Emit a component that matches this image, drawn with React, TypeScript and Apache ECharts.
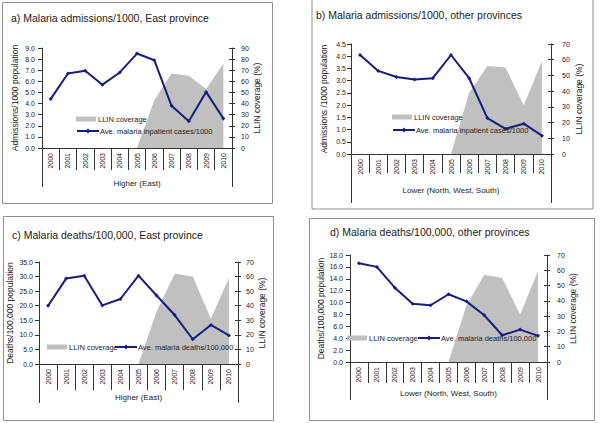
import React, { useEffect, useRef } from "react";
import * as echarts from "echarts";

const years = ["2000", "2001", "2002", "2003", "2004", "2005", "2006", "2007", "2008", "2009", "2010"];

const admissionsEast = [4.4, 6.7, 6.95, 5.7, 6.8, 8.5, 7.9, 3.8, 2.4, 5.05, 2.65];
const llinEastA = [null, null, null, null, null, 0, 43, 67, 65, 53, 76];

const admissionsOther = [4.05, 3.4, 3.15, 3.05, 3.1, 4.05, 3.1, 1.47, 1.03, 1.24, 0.75];
const llinOtherB = [null, null, null, null, null, 0, 39, 56, 55, 31, 59];

const deathsEast = [20.0, 29.3, 30.3, 20.1, 22.3, 30.3, 23.5, 16.8, 8.5, 13.4, 9.8];
const llinEastC = [null, null, null, null, null, 0, 36, 62, 60, 31, 59];

const deathsOther = [16.6, 16.0, 12.5, 9.8, 9.55, 11.4, 10.2, 7.85, 4.5, 5.45, 4.4];
const llinOtherD = [null, null, null, null, null, 0, 37, 57, 55, 31, 59.5];

const titles = [
  "a) Malaria admissions/1000, East province",
  "b) Malaria admissions/1000, other provinces",
  "c) Malaria deaths/100,000, East province",
  "d) Malaria deaths/100,000, other provinces",
];
const leftNames = [
  "Admissions/1000 population",
  "Admissions /1000 population",
  "Deaths/100,000 population",
  "Deaths/100,000 population",
];
const groupLabels = ["Higher (East)", "Lower (North, West, South)", "Higher (East)", "Lower (North, West, South)"];
const areaName = "LLIN coverage";
const lineNames = [
  "Ave. malaria inpatient cases/1000",
  "Ave. malaria inpatient cases/1000",
  "Ave. malaria deaths/100,000",
  "Ave. malaria deaths/100,000",
];
const rightName = "LLIN coverage (%)";
const lineSeries = [admissionsEast, admissionsOther, deathsEast, deathsOther];
const areaSeries = [llinEastA, llinOtherB, llinEastC, llinOtherD];
const leftMax = [9, 4.5, 35, 18];
const leftInterval = [1, 0.5, 5, 2];
const rightMax = [90, 70, 70, 70];

const FONT = "'Liberation Sans', Arial, sans-serif";
const TXT = "#222";
const AXIS = "#333";
const NAVY = "#1b1b7c";
const GRAY = "#c0c0c0";

// layout (styles only)
const layout = [
  { left: 42, top: 48, width: 190, height: 100, yearTick: 22, groupTick: 39, groupMargin: 31, lGap: 23, rGap: 19, rMargin: 9, lMargin: 7,
    title: [11, 12], leg1: [76, 115], leg2: [76, 127], box: [2, 2, 270, 201] },
  { left: 351, top: 44, width: 200, height: 110, yearTick: 19, groupTick: 49, groupMargin: 32, lGap: 23, rGap: 23, rMargin: 11, lMargin: 5,
    title: [316, 9], leg1: [392, 113], leg2: [392, 126], box: [311.5, -1, 281, 209.5] },
  { left: 39, top: 262, width: 199, height: 102, yearTick: 26, groupTick: 39, groupMargin: 29, lGap: 25, rGap: 19, rMargin: 8, lMargin: 6,
    title: [12, 229], leg1: [47, 343], leg2: [114, 343], box: [3, 216, 270, 204] },
  { left: 350, top: 255, width: 197, height: 107, yearTick: 21, groupTick: 38, groupMargin: 27, lGap: 24, rGap: 16, rMargin: 10, lMargin: 7,
    title: [330, 226], leg1: [347, 334], leg2: [417, 334], box: [309, 218, 285, 202] },
];

function buildOption() {
  const grid: any[] = [];
  const xAxis: any[] = [];
  const yAxis: any[] = [];
  const series: any[] = [];
  const legend: any[] = [];
  const title: any[] = [];
  const graphic: any[] = [];

  layout.forEach((L, i) => {
    grid.push({ left: L.left, top: L.top, width: L.width, height: L.height, containLabel: false });
    title.push({
      text: titles[i], left: L.title[0], top: L.title[1], padding: 0,
      textStyle: { fontFamily: FONT, fontSize: 10.5, fontWeight: "normal", color: TXT },
    });
    graphic.push({
      type: "rect", shape: { x: L.box[0] + 0.5, y: L.box[1] + 0.5, width: L.box[2], height: L.box[3] },
      style: { fill: "none", stroke: "#8f8f8f", lineWidth: 1 }, silent: true,
    });
    // year axis
    xAxis.push({
      type: "category", gridIndex: i, position: "bottom", data: years, boundaryGap: true,
      axisLine: { show: true, onZero: false, lineStyle: { color: AXIS, width: 1 } },
      axisTick: { show: true, interval: 0, length: L.yearTick, lineStyle: { color: AXIS } },
      axisLabel: { interval: 0, rotate: 90, margin: 5, fontSize: 7, fontFamily: FONT, color: TXT },
      splitLine: { show: false },
    });
    // group axis
    xAxis.push({
      type: "category", gridIndex: i, position: "bottom", data: [groupLabels[i]], boundaryGap: true,
      axisLine: { show: false, onZero: false },
      axisTick: { show: true, interval: 0, length: L.groupTick, lineStyle: { color: AXIS } },
      axisLabel: { interval: 0, margin: L.groupMargin, fontSize: 8, fontFamily: FONT, color: TXT },
      splitLine: { show: false },
    });
    const dec = leftInterval[i] < 1 || leftMax[i] < 40 ? 1 : 0;
    yAxis.push({
      type: "value", gridIndex: i, position: "left", min: 0, max: leftMax[i], interval: leftInterval[i],
      name: leftNames[i], nameLocation: "middle", nameRotate: 90, nameGap: L.lGap,
      nameTextStyle: { fontFamily: FONT, fontSize: 8.5, color: TXT },
      axisLine: { show: true, lineStyle: { color: AXIS } },
      axisTick: { show: true, length: 4, lineStyle: { color: AXIS } },
      axisLabel: { margin: L.lMargin, fontSize: 7, fontFamily: FONT, color: TXT, formatter: (v: number) => v.toFixed(dec) },
      splitLine: { show: false },
    });
    yAxis.push({
      type: "value", gridIndex: i, position: "right", min: 0, max: rightMax[i], interval: 10,
      name: rightName, nameLocation: "middle", nameRotate: 90, nameGap: L.rGap,
      nameTextStyle: { fontFamily: FONT, fontSize: 8.5, color: TXT },
      axisLine: { show: true, lineStyle: { color: AXIS } },
      axisTick: { show: true, length: 3, lineStyle: { color: AXIS } },
      axisLabel: { margin: L.rMargin, fontSize: 7, fontFamily: FONT, color: TXT },
      splitLine: { show: false },
    });
    yAxis.push({
      type: "value", gridIndex: i, position: "right", min: 0, max: rightMax[i], interval: 10,
      axisLine: { show: false },
      axisTick: { show: true, inside: true, length: 3, lineStyle: { color: AXIS } },
      axisLabel: { show: false },
      splitLine: { show: false },
    });
    series.push({
      type: "line", name: areaName, xAxisIndex: i * 2, yAxisIndex: i * 3 + 1,
      data: areaSeries[i], symbol: "none", showSymbol: false, color: GRAY,
      lineStyle: { width: 0, color: GRAY }, areaStyle: { color: GRAY, opacity: 1 },
      connectNulls: false, z: 1,
    });
    series.push({
      type: "line", name: lineNames[i], xAxisIndex: i * 2, yAxisIndex: i * 3,
      data: lineSeries[i], symbol: "diamond", symbolSize: 4, showSymbol: true, color: NAVY,
      lineStyle: { width: 2, color: NAVY }, itemStyle: { color: NAVY }, z: 3,
    });
    legend.push({
      left: L.leg1[0], top: L.leg1[1], padding: 0, itemGap: 0, itemWidth: 20, itemHeight: 5,
      data: [{ name: areaName, icon: "rect" }],
      textStyle: { fontFamily: FONT, fontSize: 7.5, color: TXT, padding: [0, 0, 0, -3] },
      selectedMode: false,
    });
    legend.push({
      left: L.leg2[0], top: L.leg2[1], padding: 0, itemGap: 0, itemWidth: 22, itemHeight: 6,
      data: [{ name: lineNames[i] }],
      textStyle: { fontFamily: FONT, fontSize: 7.5, color: TXT, padding: [0, 0, 0, -4] },
      selectedMode: false,
    });
  });

  return {
    animation: false,
    backgroundColor: "#ffffff",
    textStyle: { fontFamily: FONT },
    title, grid, xAxis, yAxis, series, legend, graphic,
  };
}

export default function App() {
  const ref = useRef<HTMLDivElement>(null);
  useEffect(() => {
    if (!ref.current) return;
    const chart = echarts.init(ref.current, undefined, { renderer: "svg" });
    chart.setOption(buildOption() as any);
    return () => chart.dispose();
  }, []);
  return (
    <div
      ref={ref}
      style={{ position: "absolute", left: 0, top: 0, width: 600, height: 423, background: "#fff" }}
    />
  );
}
